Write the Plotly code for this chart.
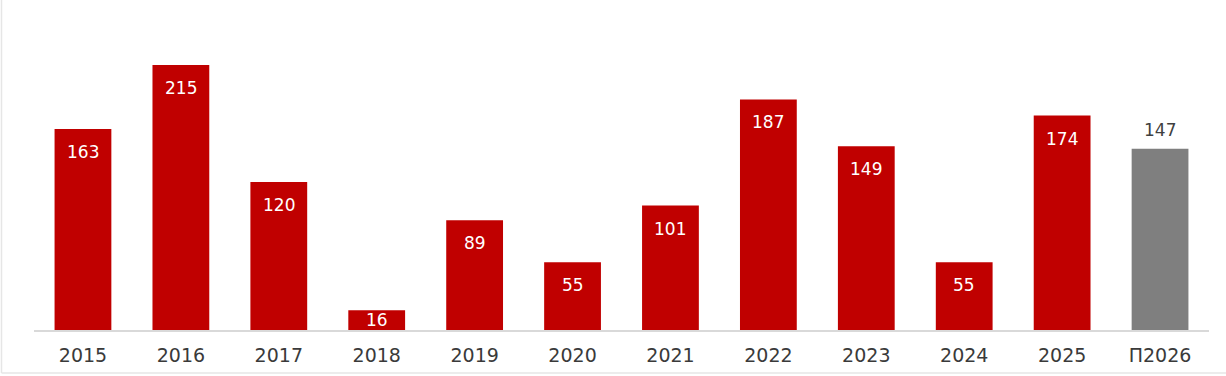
import plotly.graph_objects as go

categories = ["2015", "2016", "2017", "2018", "2019", "2020", "2021", "2022", "2023", "2024", "2025", "П2026"]
values = [163, 215, 120, 16, 89, 55, 101, 187, 149, 55, 174, 147]
is_forecast = [False] * 11 + [True]

RED = "#C00000"
GREY = "#7F7F7F"

W, H = 1226, 376
ML, MR, MT, MB = 34, 17, 10, 46
plot_h = H - MT - MB
ymax = 259.6
px_per_unit = plot_h / ymax

colors = [GREY if f else RED for f in is_forecast]
xpos = list(range(len(categories)))

fig = go.Figure()
fig.add_trace(go.Bar(
    x=xpos, y=values, width=0.58,
    marker=dict(color=colors, line=dict(width=0)),
    hovertext=categories, hoverinfo="text+y",
))

font_family = "DejaVu Sans, Verdana, sans-serif"
for xi, v, f in zip(xpos, values, is_forecast):
    if f:
        fig.add_annotation(x=xi, y=v, text=str(v), showarrow=False,
                           yanchor="bottom", yshift=7,
                           font=dict(family=font_family, size=17, color="#404040"))
    else:
        shift = -min(23, v * px_per_unit / 2)
        fig.add_annotation(x=xi, y=v, text=str(v), showarrow=False,
                           yanchor="middle", yshift=shift,
                           font=dict(family=font_family, size=17, color="white"))

fig.update_layout(
    width=W, height=H,
    margin=dict(l=ML, r=MR, t=MT, b=MB, pad=0, autoexpand=False),
    paper_bgcolor="white", plot_bgcolor="white",
    showlegend=False,
    xaxis=dict(range=[-0.5, len(categories) - 0.5], tickmode="array",
               tickvals=xpos, ticktext=categories,
               showgrid=False, zeroline=False, showline=True, linecolor="#D9D9D9", linewidth=1.5,
               ticks="", ticklabelstandoff=7,
               tickfont=dict(family=font_family, size=19, color="#3A3A3A"),
               automargin=False, fixedrange=True),
    yaxis=dict(range=[0, ymax], visible=False, showgrid=False, zeroline=False,
               automargin=False, fixedrange=True),
)

# faint frame on left and bottom edges
pw = W - ML - MR
ph = plot_h
fig.add_shape(type="line", xref="paper", yref="paper",
              x0=(1.5 - ML) / pw, x1=(1.5 - ML) / pw,
              y0=-(373 - MT - ph) / ph, y1=(ph + MT) / ph,
              line=dict(color="#E6E6E6", width=1.5))
fig.add_shape(type="line", xref="paper", yref="paper",
              x0=(1.5 - ML) / pw, x1=(W - ML) / pw,
              y0=-(373 - MT - ph) / ph, y1=-(373 - MT - ph) / ph,
              line=dict(color="#E6E6E6", width=1.5))

fig.write_html("out.html", config={"displayModeBar": False},
               post_script="document.body.style.margin='0';")
